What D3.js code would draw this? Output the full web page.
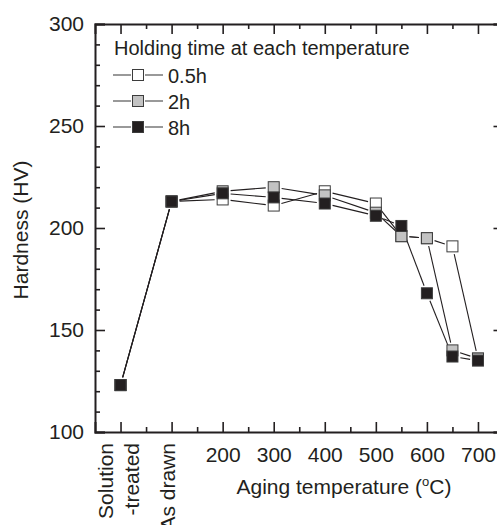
<!DOCTYPE html>
<html>
<head>
<meta charset="utf-8">
<script src="https://cdn.jsdelivr.net/npm/d3@7"></script>
<style>
  html, body { margin: 0; padding: 0; background: #fff; }
  svg { display: block; font-family: "Liberation Sans", Arial, sans-serif; }
</style>
</head>
<body>
<svg id="chart" width="497" height="525"></svg>
<script>
// Aging positions: 0 = solution-treated, 100 = as drawn, then aging temperature in °C
const positions = [0, 100, 200, 300, 400, 500, 550, 600, 650, 700];
const hv05h = [123, 213, 214, 211, 218, 212, 196, 195, 191, 136];
const hv2h  = [123, 213, 218, 220, 216, 207.5, 196, 195, 140, 136];
const hv8h  = [123, 213, 217, 215, 212, 206, 201, 168, 137, 135];

const seriesNames = ["0.5h", "2h", "8h"];
const seriesFills = ["#ffffff", "#c3c3c3", "#231f20"];
const seriesValues = [hv05h, hv2h, hv8h];

const xTickValues = [200, 300, 400, 500, 600, 700];
const xMinorValues = [50, 150, 250, 350, 450, 550, 650];
const yTickValues = [100, 150, 200, 250, 300];
const stateLabels = [
  { pos: 0, lines: ["Solution", "-treated"] },
  { pos: 100, lines: ["As drawn"] }
];

const ink = "#231f20";
const svg = d3.select("#chart");

const x = d3.scaleLinear().domain([-50, 750]).range([95, 503.5]);
const y = d3.scaleLinear().domain([100, 300]).range([432, 24]);

const yMinor = d3.range(110, 300, 10).filter(v => v % 50 !== 0);

function styleAxis(g) {
  g.select(".domain").attr("stroke", ink).attr("stroke-width", 2);
  g.selectAll(".tick line").attr("stroke", ink).attr("stroke-width", 1.6);
  g.selectAll(".tick text").attr("fill", ink).attr("font-size", 21)
    .attr("font-family", "'Liberation Sans', Arial, sans-serif");
}

// minor ticks on all four sides
const minorGroups = [
  [d3.axisBottom(x).tickValues(xMinorValues), `translate(0,${y(100)})`],
  [d3.axisTop(x).tickValues(xMinorValues), `translate(0,${y(300)})`],
  [d3.axisLeft(y).tickValues(yMinor), `translate(${x(-50)},0)`],
  [d3.axisRight(y).tickValues(yMinor), `translate(${x(750)},0)`]
];
minorGroups.forEach(([ax, tr]) => {
  const g = svg.append("g").attr("transform", tr)
    .call(ax.tickSize(-5).tickFormat(""));
  g.select(".domain").remove();
  g.selectAll(".tick line").attr("stroke", ink).attr("stroke-width", 1.6);
});

// major axes
const gx = svg.append("g").attr("transform", `translate(0,${y(100)})`)
  .call(d3.axisBottom(x).tickValues([0, 100].concat(xTickValues))
    .tickSize(-10).tickPadding(7)
    .tickFormat(d => d >= 200 ? d3.format("d")(d) : ""));
styleAxis(gx);
gx.selectAll(".tick text").attr("dy", "0.71em").attr("y", 15);

const gxTop = svg.append("g").attr("transform", `translate(0,${y(300)})`)
  .call(d3.axisTop(x).tickValues([0, 100].concat(xTickValues)).tickSize(-10).tickFormat(""));
styleAxis(gxTop);

const gy = svg.append("g").attr("transform", `translate(${x(-50)},0)`)
  .call(d3.axisLeft(y).tickValues(yTickValues).tickSize(-10).tickPadding(11).tickFormat(d3.format("d")));
styleAxis(gy);

const gyRight = svg.append("g").attr("transform", `translate(${x(750)},0)`)
  .call(d3.axisRight(y).tickValues(yTickValues).tickSize(-10).tickFormat(""));
styleAxis(gyRight);

// rotated state labels under the first two positions
stateLabels.forEach(lbl => {
  const n = lbl.lines.length;
  lbl.lines.forEach((line, i) => {
    const bx = x(lbl.pos) + 3 + (i - (n - 1) / 2) * 26 + (n > 1 ? 2 : 0);
    svg.append("text")
      .attr("transform", `translate(${bx},443) rotate(-90)`)
      .attr("text-anchor", "end")
      .attr("font-size", 21)
      .attr("fill", ink)
      .text(line);
  });
});

// axis titles
const xt = svg.append("text")
  .attr("x", 344).attr("y", 494)
  .attr("text-anchor", "middle")
  .attr("font-size", 21)
  .attr("fill", ink);
xt.append("tspan").text("Aging temperature (");
xt.append("tspan").attr("font-size", 13).attr("dy", -8).text("o");
xt.append("tspan").attr("dy", 8).text("C)");

svg.append("text")
  .attr("transform", "translate(28,230) rotate(-90)")
  .attr("text-anchor", "middle")
  .attr("font-size", 21)
  .attr("fill", ink)
  .text("Hardness (HV)");

// connecting lines, trimmed so they stop short of the markers
const gap = 8;
seriesValues.forEach(vals => {
  const pts = positions.map((p, i) => [x(p), y(vals[i])]);
  for (let i = 0; i < pts.length - 1; i++) {
    const [x1, y1] = pts[i], [x2, y2] = pts[i + 1];
    const dx = x2 - x1, dy = y2 - y1, len = Math.hypot(dx, dy);
    if (len <= 2 * gap) continue;
    const ux = dx / len, uy = dy / len;
    svg.append("line")
      .attr("x1", x1 + ux * gap).attr("y1", y1 + uy * gap)
      .attr("x2", x2 - ux * gap).attr("y2", y2 - uy * gap)
      .attr("stroke", ink).attr("stroke-width", 1.1);
  }
});

// markers
const ms = 11;
seriesValues.forEach((vals, s) => {
  svg.append("g").selectAll("rect")
    .data(positions.map((p, i) => [p, vals[i]]))
    .join("rect")
    .attr("x", d => x(d[0]) - ms / 2)
    .attr("y", d => y(d[1]) - ms / 2)
    .attr("width", ms).attr("height", ms)
    .attr("fill", seriesFills[s])
    .attr("stroke", "#3c3c3c")
    .attr("stroke-width", 1);
});

// legend
svg.append("text")
  .attr("x", 114).attr("y", 55)
  .attr("font-size", 20)
  .attr("fill", ink)
  .text("Holding time at each temperature");

seriesNames.forEach((name, i) => {
  const cy = 75 + i * 26;
  const g = svg.append("g");
  g.append("line").attr("x1", 113).attr("x2", 131).attr("y1", cy).attr("y2", cy)
    .attr("stroke", "#555").attr("stroke-width", 1.2);
  g.append("line").attr("x1", 145).attr("x2", 163).attr("y1", cy).attr("y2", cy)
    .attr("stroke", "#555").attr("stroke-width", 1.2);
  g.append("rect").attr("x", 138 - ms / 2).attr("y", cy - ms / 2)
    .attr("width", ms).attr("height", ms)
    .attr("fill", seriesFills[i]).attr("stroke", "#3c3c3c").attr("stroke-width", 1);
  g.append("text").attr("x", 168).attr("y", cy + 7.5)
    .attr("font-size", 20).attr("fill", ink).text(name);
});
</script>
</body>
</html>
